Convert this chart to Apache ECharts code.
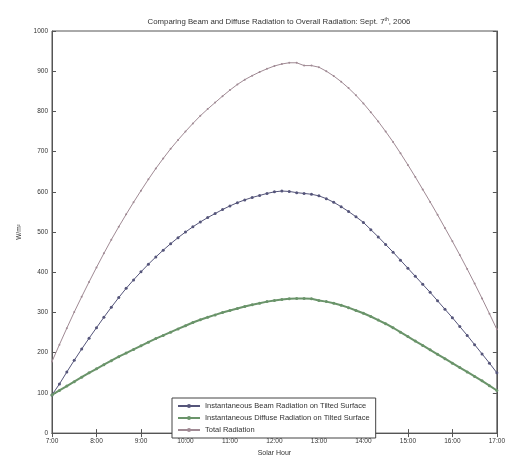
<!DOCTYPE html>
<html><head><meta charset="utf-8">
<script src="https://cdn.jsdelivr.net/npm/echarts@6/dist/echarts.min.js"></script>
<style>html,body{margin:0;padding:0;background:#fff}#c{width:508px;height:462px}</style>
</head><body><div id="c"></div>
<script>
var times = ["7:00","7:10","7:20","7:30","7:40","7:50","8:00","8:10","8:20","8:30","8:40","8:50",
"9:00","9:10","9:20","9:30","9:40","9:50","10:00","10:10","10:20","10:30","10:40","10:50",
"11:00","11:10","11:20","11:30","11:40","11:50","12:00","12:10","12:20","12:30","12:40","12:50",
"13:00","13:10","13:20","13:30","13:40","13:50","14:00","14:10","14:20","14:30","14:40","14:50",
"15:00","15:10","15:20","15:30","15:40","15:50","16:00","16:10","16:20","16:30","16:40","16:50","17:00"];
var beam = [95,122,152,181,209,236,262,288,313,337,360,381,
401,420,438,455,471,486,500,513,525,536,546,556,
565,573,580,586,591,596,600,602,601,598,596,594,
590,583,574,563,551,538,524,506,488,469,450,430,
410,390,370,350,329,308,287,265,243,220,197,174,150];
var diffuse = [95,106,117,128,139,150,160,170,180,190,199,208,
217,226,235,243,251,259,267,275,282,288,294,300,
305,310,315,319,323,327,330,332,334,335,335,334,
330,327,323,318,312,305,298,290,281,272,262,251,
240,229,218,207,196,185,174,163,152,141,130,118,106];
var total = [178,220,261,301,339,376,412,447,481,513,544,574,
603,631,658,683,707,729,750,770,789,806,822,838,
853,867,879,889,898,906,913,918,921,921,914,914,
910,900,888,874,858,840,820,798,775,750,724,696,
667,637,606,575,543,510,477,443,408,372,335,297,258];
var yTicks = ["0","100","200","300","400","500","600","700","800","900","1000"];
var names = ["Instantaneous Beam Radiation on Tilted Surface","Instantaneous Diffuse Radiation on Tilted Surface","Total Radiation"];

var chart = echarts.init(document.getElementById('c'));
var font = 'Liberation Sans';
function mk(name, data, color, lw, sz) {
  return {name: name, type: 'line', data: data, symbol: 'circle', symbolSize: sz,
    showSymbol: true, animation: false,
    lineStyle: {color: color, width: lw}, itemStyle: {color: color}};
}
chart.setOption({
  backgroundColor: '#fff',
  animation: false,
  title: {
    text: 'Comparing Beam and Diffuse Radiation to Overall Radiation: Sept. 7{s|th}, 2006',
    left: 274, top: 12, textAlign: 'center',
    textStyle: {fontFamily: font, fontSize: 7.8, fontWeight: 'normal', color: '#333',
      rich: {s: {fontSize: 5, verticalAlign: 'top', color: '#333', padding: [0,0,4,0]}}}
  },
  grid: {left: 52, right: 11, top: 31, bottom: 21, show: true, borderColor: '#555', borderWidth: 1, backgroundColor: '#fff'},
  legend: {
    orient: 'vertical', left: 172, top: 398,
    backgroundColor: '#fff', borderColor: '#444', borderWidth: 1,
    padding: [4, 6, 4, 5], itemGap: 4, itemWidth: 22, itemHeight: 5,
    textStyle: {fontFamily: font, fontSize: 7.5, color: '#333'},
    data: names
  },
  xAxis: [{
    type: 'category', data: times, boundaryGap: false, position: 'bottom',
    name: 'Solar Hour', nameLocation: 'middle', nameGap: 15,
    nameTextStyle: {fontFamily: font, fontSize: 7, color: '#333'},
    axisLine: {lineStyle: {color: '#555'}},
    axisTick: {inside: true, length: 4, interval: 5, lineStyle: {color: '#555'}},
    axisLabel: {interval: 5, fontFamily: font, fontSize: 6.5, color: '#333', margin: 5},
    splitLine: {show: false}
  }, {
    type: 'category', data: times, boundaryGap: false, position: 'top',
    axisLine: {lineStyle: {color: '#555'}},
    axisTick: {inside: true, length: 4, interval: 5, lineStyle: {color: '#555'}},
    axisLabel: {show: false}, splitLine: {show: false}
  }],
  yAxis: [{
    type: 'value', min: 0, max: 1000, interval: 100, position: 'left',
    name: 'W/m\u00B2', nameLocation: 'middle', nameGap: 29, nameRotate: 90,
    nameTextStyle: {fontFamily: font, fontSize: 6.5, color: '#333'},
    axisLine: {show: true, lineStyle: {color: '#555'}},
    axisTick: {show: true, inside: true, length: 4, lineStyle: {color: '#555'}},
    axisLabel: {fontFamily: font, fontSize: 6.5, color: '#333', margin: 4,
      formatter: function (v) { return yTicks[Math.round(v / 100)]; }},
    splitLine: {show: false}
  }, {
    type: 'value', min: 0, max: 1000, interval: 100, position: 'right',
    axisLine: {show: true, lineStyle: {color: '#555'}},
    axisTick: {show: true, inside: true, length: 4, lineStyle: {color: '#555'}},
    axisLabel: {show: false}, splitLine: {show: false}
  }],
  series: [
    mk(names[0], beam, '#55557a', 1, 3),
    mk(names[1], diffuse, '#6a946a', 2, 3),
    mk(names[2], total, '#a08a94', 1, 2)
  ]
});
</script></body></html>
